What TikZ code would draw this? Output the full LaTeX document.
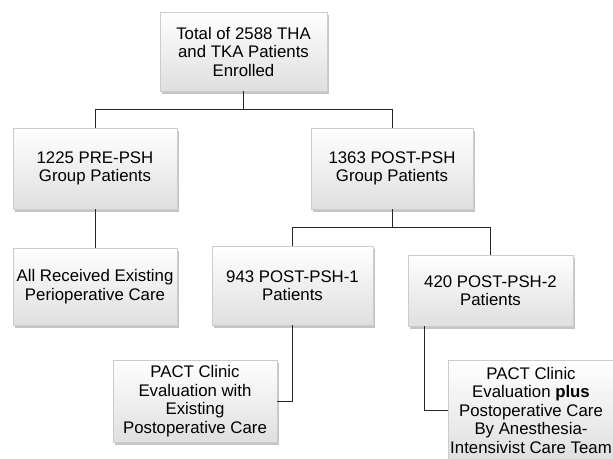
\documentclass[tikz,border=0pt]{standalone}
\usepackage{fontspec}
\setmainfont{Liberation Sans}
\usetikzlibrary{shadows}

\tikzset{
  box/.style={draw=gray!40, top color=white, bottom color=gray!25,
    drop shadow={opacity=0.45, shadow xshift=1.5pt, shadow yshift=-2.5pt},
    align=center, inner sep=0pt, font=\fontsize{16.8}{18.5}\selectfont},
  link/.style={draw=black!85, line width=0.8pt}
}

\begin{document}
\begin{tikzpicture}[x=1pt,y=-1pt]

        \fill[white] (0,0) rectangle (613,458);
        \useasboundingbox (0,0) rectangle (613,458);

        \begin{scope}[every node/.style={box}]
          \node[minimum width=167pt, minimum height=79pt] (1) at (243.5,51.5) {Total of 2588 THA\\and TKA Patients\\Enrolled};
          \node[minimum width=164pt, minimum height=81pt] (2) at (95,168.5) {1225 PRE-PSH\\Group Patients};
          \node[minimum width=162pt, minimum height=81pt] (3) at (392,168.5) {1363 POST-PSH\\Group Patients};
          \node[minimum width=164pt, minimum height=77pt] (4) at (95,286.5) {All Received Existing\\Perioperative Care};
          \node[minimum width=161pt, minimum height=79pt] (5) at (292.5,285.5) {943 POST-PSH-1\\Patients};
          \node[minimum width=165pt, minimum height=71pt] (6) at (490.5,290.5) {420 POST-PSH-2\\Patients};
          \node[minimum width=164pt, minimum height=82pt] (7) at (195,401) {PACT Clinic\\Evaluation with\\Existing\\Postoperative Care};
          \node[minimum width=166pt, minimum height=100pt] (8) at (531,410) {PACT Clinic\\Evaluation \textbf{plus}\\Postoperative Care\\By Anesthesia-\\Intensivist Care Team};
        \end{scope}

        \begin{scope}[every path/.style={link}]
          \draw (1.south) -- ++(0,18) -| (2.north);
          \draw (1.south) -- ++(0,18) -| (3.north);
          \draw (2) -- (4);
          \draw (3.south) -- ++(0,18) -| (5.north);
          \draw (3.south) -- ++(0,18) -| (6.north);
          \draw (5.south) |- (7.east);
          \draw ([xshift=17pt]6.south west) |- (8.west);
        \end{scope}

      \end{tikzpicture}
\end{document}
